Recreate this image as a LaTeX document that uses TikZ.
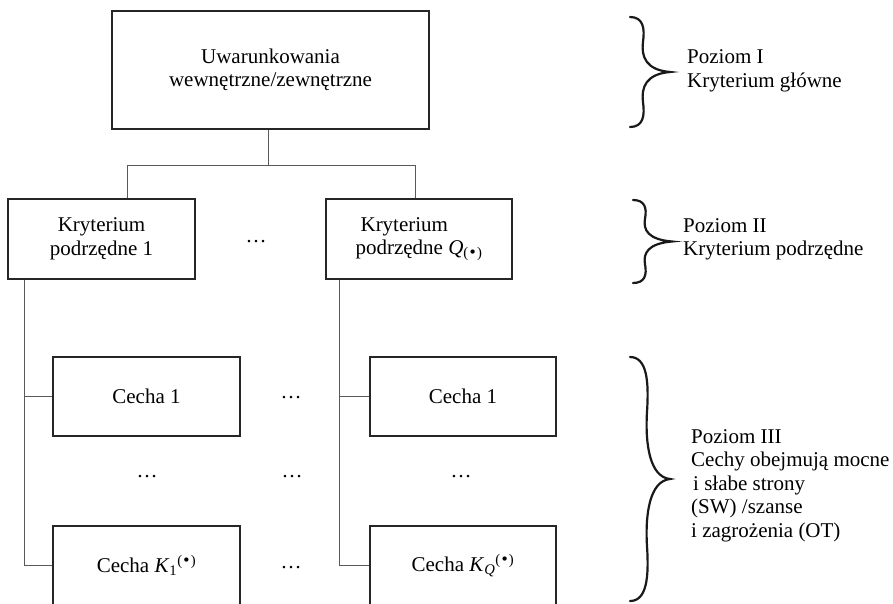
\documentclass[tikz,border=0pt]{standalone}
\usepackage{fontspec}
\setmainfont{Liberation Serif}
\newfontfamily\bulletfont{DejaVu Sans}
\newcommand\bul{{\bulletfont •}}
\newcommand\drawbrace[5]{%
  \pgfmathsetmacro\brM{(#4+#5)/2}%
  \pgfmathsetmacro\brL{(#5-#4)/2}%
  \draw[brace] (#1,#4) .. controls ({#2+2},#4) and ({#2+4},{#4+0.2*\brL}) .. ({#2+2},{#4+0.45*\brL})
    .. controls (#2,{#4+0.72*\brL}) and ({#2+5},{\brM-2}) .. (#3,\brM)
    .. controls ({#2+5},{\brM+2}) and (#2,{#5-0.72*\brL}) .. ({#2+2},{#5-0.45*\brL})
    .. controls ({#2+4},{#5-0.2*\brL}) and ({#2+2},#5) .. (#1,#5);%
}
\begin{document}
\begin{tikzpicture}[x=1pt,y=-1pt,
  box/.style={draw=black!85,line width=1.2pt,minimum width=187pt,minimum height=80pt,inner sep=0pt,align=center,font=\fontsize{21}{23.5}\selectfont},
  conn/.style={draw=black!65,line width=0.9pt},
  lbl/.style={align=left,inner sep=0pt,font=\fontsize{21}{23.5}\selectfont},
  dotsn/.style={inner sep=0pt,font=\fontsize{21}{23.5}\selectfont,anchor=base},
  brace/.style={line width=2.2pt,line cap=round,draw=black!90}]
\useasboundingbox (0,0) rectangle (893,603);
\clip (0,0) rectangle (893,603);

% level I
\node[box,minimum width=317pt,minimum height=118pt] (top) at (270.5,70) {Uwarunkowania\\wewnętrzne/zewnętrzne};
% level II
\node[box] (k1) at (101.5,239) {Kryterium\\podrzędne 1};
\node[box,minimum width=186pt,align=left] (k2) at (419,239) {\hspace{5pt}Kryterium\\podrzędne \textit{Q}\textsubscript{(\bul)}};
% level III
\node[box,minimum height=79pt] (c1) at (146.5,396.5) {Cecha 1};
\node[box,minimum width=186pt,minimum height=79pt] (c2) at (463,396.5) {Cecha 1};
\node[box,minimum height=79pt] (ck1) at (146.5,565.5) {Cecha \textit{K}\textsubscript{1}\textsuperscript{(\bul)}};
\node[box,minimum width=186pt,minimum height=79pt] (ck2) at (463,565.5) {Cecha \textit{K}\textsubscript{\textit{Q}}\textsuperscript{(\bul)}};

% connectors
\coordinate (j1) at (127,165);
\coordinate (j2) at (415,165);
\coordinate (v1) at (24,0);
\coordinate (v2) at (339,0);
\draw[conn] ([xshift=-2.5pt]top.south) -- ([xshift=-2.5pt]top.south |- j1);
\draw[conn] (j1 |- k1.north) -- (j1) -- (j2) -- (j2 |- k2.north);
\draw[conn] (v1 |- k1.south) |- (c1.west);
\draw[conn] (v1 |- k1.south) |- (ck1.west);
\draw[conn] (v2 |- k2.south) |- (c2.west);
\draw[conn] (v2 |- k2.south) |- (ck2.west);

% dots
\node[dotsn] (d0) at (256,242) {\dots};
\node[dotsn] (d1) at (291,398) {\dots};
\node[dotsn] (d2) at (147,477) {\dots};
\node[dotsn] (d3) at (292,477) {\dots};
\node[dotsn] (d4) at (461,477) {\dots};
\node[dotsn] (d5) at (291,568) {\dots};

% braces
\drawbrace{630}{641}{670}{17}{127}
\drawbrace{633}{643}{672}{200}{283}
\drawbrace{630}{645}{670}{357}{601}

% labels (base anchor = last line)
\node[lbl,anchor=base west] (l1) at (687,87) {Poziom I\\Kryterium główne};
\node[lbl,anchor=base west] (l2) at (683,255.5) {Poziom II\\Kryterium podrzędne};
\node[lbl,anchor=base west] (l3) at (691,537) {Poziom III\\Cechy obejmują mocne\\\hspace{2pt}i słabe strony\\(SW) /szanse\\i zagrożenia (OT)};
\end{tikzpicture}
\end{document}
